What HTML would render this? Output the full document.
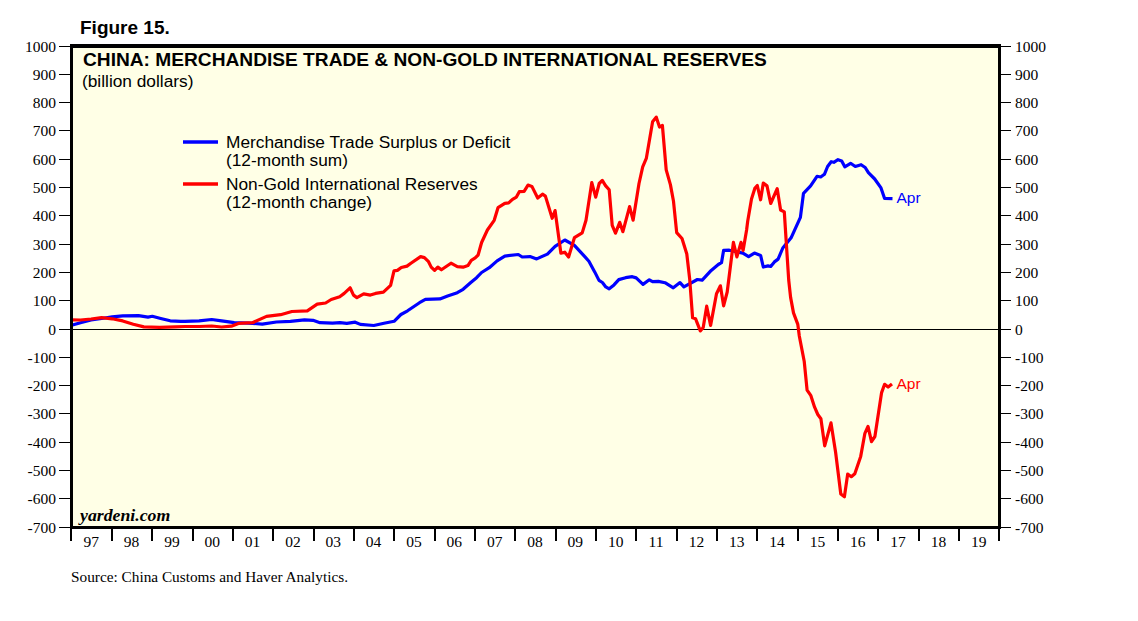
<!DOCTYPE html>
<html><head><meta charset="utf-8"><style>
html,body{margin:0;padding:0;background:#fff;width:1138px;height:621px;overflow:hidden;position:relative}
.ax{font-family:"Liberation Serif",serif;font-size:15.5px;fill:#000}
.t{position:absolute;white-space:nowrap;font-family:"Liberation Sans",sans-serif;line-height:1}
</style></head><body>
<svg width="1138" height="621" viewBox="0 0 1138 621" style="position:absolute;left:0;top:0">
<rect x="72" y="46" width="927" height="481" fill="#FFFFE6"/>
<rect x="73" y="329" width="925" height="1" fill="#000"/>
<rect x="59" y="527" width="11" height="1" fill="#000"/>
<rect x="1001" y="527" width="10" height="1" fill="#000"/>
<text x="56" y="532.5" text-anchor="end" class="ax">-700</text>
<text x="1015" y="532.5" class="ax">-700</text>
<rect x="59" y="498" width="11" height="1" fill="#000"/>
<rect x="1001" y="498" width="10" height="1" fill="#000"/>
<text x="56" y="503.5" text-anchor="end" class="ax">-600</text>
<text x="1015" y="503.5" class="ax">-600</text>
<rect x="59" y="470" width="11" height="1" fill="#000"/>
<rect x="1001" y="470" width="10" height="1" fill="#000"/>
<text x="56" y="475.5" text-anchor="end" class="ax">-500</text>
<text x="1015" y="475.5" class="ax">-500</text>
<rect x="59" y="442" width="11" height="1" fill="#000"/>
<rect x="1001" y="442" width="10" height="1" fill="#000"/>
<text x="56" y="447.5" text-anchor="end" class="ax">-400</text>
<text x="1015" y="447.5" class="ax">-400</text>
<rect x="59" y="413" width="11" height="1" fill="#000"/>
<rect x="1001" y="413" width="10" height="1" fill="#000"/>
<text x="56" y="418.5" text-anchor="end" class="ax">-300</text>
<text x="1015" y="418.5" class="ax">-300</text>
<rect x="59" y="385" width="11" height="1" fill="#000"/>
<rect x="1001" y="385" width="10" height="1" fill="#000"/>
<text x="56" y="390.5" text-anchor="end" class="ax">-200</text>
<text x="1015" y="390.5" class="ax">-200</text>
<rect x="59" y="357" width="11" height="1" fill="#000"/>
<rect x="1001" y="357" width="10" height="1" fill="#000"/>
<text x="56" y="362.5" text-anchor="end" class="ax">-100</text>
<text x="1015" y="362.5" class="ax">-100</text>
<rect x="59" y="329" width="11" height="1" fill="#000"/>
<rect x="1001" y="329" width="10" height="1" fill="#000"/>
<text x="56" y="334.5" text-anchor="end" class="ax">0</text>
<text x="1015" y="334.5" class="ax">0</text>
<rect x="59" y="300" width="11" height="1" fill="#000"/>
<rect x="1001" y="300" width="10" height="1" fill="#000"/>
<text x="56" y="305.5" text-anchor="end" class="ax">100</text>
<text x="1015" y="305.5" class="ax">100</text>
<rect x="59" y="272" width="11" height="1" fill="#000"/>
<rect x="1001" y="272" width="10" height="1" fill="#000"/>
<text x="56" y="277.5" text-anchor="end" class="ax">200</text>
<text x="1015" y="277.5" class="ax">200</text>
<rect x="59" y="244" width="11" height="1" fill="#000"/>
<rect x="1001" y="244" width="10" height="1" fill="#000"/>
<text x="56" y="249.5" text-anchor="end" class="ax">300</text>
<text x="1015" y="249.5" class="ax">300</text>
<rect x="59" y="215" width="11" height="1" fill="#000"/>
<rect x="1001" y="215" width="10" height="1" fill="#000"/>
<text x="56" y="220.5" text-anchor="end" class="ax">400</text>
<text x="1015" y="220.5" class="ax">400</text>
<rect x="59" y="187" width="11" height="1" fill="#000"/>
<rect x="1001" y="187" width="10" height="1" fill="#000"/>
<text x="56" y="192.5" text-anchor="end" class="ax">500</text>
<text x="1015" y="192.5" class="ax">500</text>
<rect x="59" y="159" width="11" height="1" fill="#000"/>
<rect x="1001" y="159" width="10" height="1" fill="#000"/>
<text x="56" y="164.5" text-anchor="end" class="ax">600</text>
<text x="1015" y="164.5" class="ax">600</text>
<rect x="59" y="130" width="11" height="1" fill="#000"/>
<rect x="1001" y="130" width="10" height="1" fill="#000"/>
<text x="56" y="135.5" text-anchor="end" class="ax">700</text>
<text x="1015" y="135.5" class="ax">700</text>
<rect x="59" y="102" width="11" height="1" fill="#000"/>
<rect x="1001" y="102" width="10" height="1" fill="#000"/>
<text x="56" y="107.5" text-anchor="end" class="ax">800</text>
<text x="1015" y="107.5" class="ax">800</text>
<rect x="59" y="74" width="11" height="1" fill="#000"/>
<rect x="1001" y="74" width="10" height="1" fill="#000"/>
<text x="56" y="79.5" text-anchor="end" class="ax">900</text>
<text x="1015" y="79.5" class="ax">900</text>
<rect x="59" y="46" width="11" height="1" fill="#000"/>
<rect x="1001" y="46" width="10" height="1" fill="#000"/>
<text x="56" y="51.5" text-anchor="end" class="ax">1000</text>
<text x="1015" y="51.5" class="ax">1000</text>
<rect x="70" y="529" width="2" height="12" fill="#000"/>
<rect x="111" y="529" width="2" height="12" fill="#000"/>
<rect x="151" y="529" width="2" height="12" fill="#000"/>
<rect x="192" y="529" width="2" height="12" fill="#000"/>
<rect x="232" y="529" width="2" height="12" fill="#000"/>
<rect x="272" y="529" width="2" height="12" fill="#000"/>
<rect x="313" y="529" width="2" height="12" fill="#000"/>
<rect x="353" y="529" width="2" height="12" fill="#000"/>
<rect x="393" y="529" width="2" height="12" fill="#000"/>
<rect x="434" y="529" width="2" height="12" fill="#000"/>
<rect x="474" y="529" width="2" height="12" fill="#000"/>
<rect x="514" y="529" width="2" height="12" fill="#000"/>
<rect x="555" y="529" width="2" height="12" fill="#000"/>
<rect x="595" y="529" width="2" height="12" fill="#000"/>
<rect x="635" y="529" width="2" height="12" fill="#000"/>
<rect x="676" y="529" width="2" height="12" fill="#000"/>
<rect x="716" y="529" width="2" height="12" fill="#000"/>
<rect x="756" y="529" width="2" height="12" fill="#000"/>
<rect x="797" y="529" width="2" height="12" fill="#000"/>
<rect x="837" y="529" width="2" height="12" fill="#000"/>
<rect x="877" y="529" width="2" height="12" fill="#000"/>
<rect x="918" y="529" width="2" height="12" fill="#000"/>
<rect x="958" y="529" width="2" height="12" fill="#000"/>
<rect x="998" y="529" width="2" height="12" fill="#000"/>
<text x="91.2" y="547" text-anchor="middle" class="ax">97</text>
<text x="131.5" y="547" text-anchor="middle" class="ax">98</text>
<text x="171.9" y="547" text-anchor="middle" class="ax">99</text>
<text x="212.2" y="547" text-anchor="middle" class="ax">00</text>
<text x="252.6" y="547" text-anchor="middle" class="ax">01</text>
<text x="292.9" y="547" text-anchor="middle" class="ax">02</text>
<text x="333.3" y="547" text-anchor="middle" class="ax">03</text>
<text x="373.6" y="547" text-anchor="middle" class="ax">04</text>
<text x="414.0" y="547" text-anchor="middle" class="ax">05</text>
<text x="454.3" y="547" text-anchor="middle" class="ax">06</text>
<text x="494.7" y="547" text-anchor="middle" class="ax">07</text>
<text x="535.0" y="547" text-anchor="middle" class="ax">08</text>
<text x="575.3" y="547" text-anchor="middle" class="ax">09</text>
<text x="615.7" y="547" text-anchor="middle" class="ax">10</text>
<text x="656.0" y="547" text-anchor="middle" class="ax">11</text>
<text x="696.4" y="547" text-anchor="middle" class="ax">12</text>
<text x="736.7" y="547" text-anchor="middle" class="ax">13</text>
<text x="777.1" y="547" text-anchor="middle" class="ax">14</text>
<text x="817.4" y="547" text-anchor="middle" class="ax">15</text>
<text x="857.8" y="547" text-anchor="middle" class="ax">16</text>
<text x="898.1" y="547" text-anchor="middle" class="ax">17</text>
<text x="938.5" y="547" text-anchor="middle" class="ax">18</text>
<text x="978.8" y="547" text-anchor="middle" class="ax">19</text>
<polyline fill="none" stroke="#0000FF" stroke-width="3.2" stroke-linejoin="round" stroke-linecap="butt" points="71.6,325.3 80.5,322.7 91.1,320.0 101.6,318.5 112.2,316.9 122.7,315.8 138.5,315.6 148.0,317.1 152.3,316.3 160.7,318.5 170.2,320.8 180.7,321.4 185.0,321.3 199.1,320.9 211.7,319.5 221.6,320.9 234.2,322.7 248.3,323.1 262.3,324.1 276.4,322.0 290.4,321.3 304.5,319.9 313.0,320.3 320.0,322.7 332.6,323.1 340.0,322.7 346.8,323.3 355.2,322.2 360.3,324.4 373.8,325.5 384.0,323.3 394.1,321.3 400.9,314.5 407.6,310.8 419.5,302.7 425.4,299.4 439.9,298.9 447.6,296.0 457.3,292.7 463.1,289.3 470.8,282.5 476.6,277.7 481.6,272.5 489.3,267.7 497.1,260.9 504.8,256.1 518.3,254.5 522.2,257.0 530.0,256.6 536.7,258.9 547.4,254.1 555.1,246.4 564.8,240.0 574.4,245.4 585.0,256.9 588.9,261.3 594.7,271.9 599.0,280.4 602.4,282.5 605.8,286.9 609.2,288.8 614.0,284.9 618.8,279.6 625.6,277.7 632.3,276.7 636.2,277.9 643.0,284.4 649.3,279.8 652.6,281.7 658.4,281.4 665.0,282.7 673.3,287.8 680.0,282.6 683.9,286.8 697.4,279.5 702.2,280.1 711.2,270.4 718.3,264.5 721.5,262.7 723.6,250.4 729.3,250.2 742.9,253.1 748.6,256.6 754.4,253.1 760.6,255.4 763.3,267.0 768.0,265.9 770.7,266.5 774.4,261.9 778.1,259.1 782.8,248.0 791.1,237.8 800.4,217.4 803.5,193.3 810.6,185.9 817.0,176.3 820.7,177.0 824.4,174.3 827.6,166.5 831.2,161.7 833.8,162.3 838.0,159.7 841.7,160.9 844.8,166.8 850.6,163.3 855.3,166.5 861.1,164.7 865.2,167.5 868.4,172.7 874.7,179.0 881.0,187.9 884.6,198.4 892.5,198.6"/>
<polyline fill="none" stroke="#FF0000" stroke-width="3.2" stroke-linejoin="round" stroke-linecap="butt" points="71.6,319.8 80.5,320.0 91.1,319.0 101.6,317.7 112.2,318.8 122.7,320.9 133.3,324.3 143.8,326.9 159.6,327.4 175.5,326.9 185.0,326.5 199.1,326.5 211.7,326.0 221.6,327.0 231.4,326.2 238.4,323.4 252.5,322.7 266.5,316.4 280.6,314.7 291.9,311.5 307.3,310.8 317.2,304.2 325.6,303.0 331.2,299.5 339.7,296.7 344.2,293.4 350.1,287.8 353.5,295.1 356.9,297.6 363.7,293.9 370.4,295.1 375.5,293.4 383.4,292.2 390.6,285.4 394.0,270.9 397.4,270.4 401.3,267.5 407.0,266.1 410.9,263.2 420.6,256.6 424.4,257.6 428.3,261.3 431.2,267.1 434.6,270.4 437.8,267.1 441.4,269.8 451.0,263.2 457.3,266.6 463.1,267.2 467.9,265.6 471.3,260.3 475.2,257.9 478.1,255.0 481.6,242.5 487.4,230.0 494.2,220.3 498.0,207.7 504.8,203.3 508.7,202.9 512.5,199.4 516.4,197.1 519.3,191.7 524.1,191.3 528.0,185.1 531.9,186.4 537.7,198.0 542.5,194.2 545.4,196.1 552.2,218.3 555.1,210.6 560.9,253.2 564.8,252.2 568.6,257.0 574.4,237.7 582.2,232.9 586.0,220.3 591.8,182.6 595.7,197.1 599.2,183.5 602.3,180.4 605.5,185.6 609.2,189.8 612.2,225.4 615.5,233.2 619.7,222.3 622.9,231.7 629.6,206.6 633.1,220.2 639.0,183.5 642.7,166.8 646.3,158.4 652.6,121.8 656.2,117.1 659.5,127.0 662.4,125.5 666.2,169.9 670.4,184.6 673.5,201.3 676.7,232.7 682.0,238.5 686.8,254.0 689.7,279.1 692.6,317.8 695.5,318.7 700.3,330.9 703.2,327.4 706.7,306.2 710.6,325.5 716.5,293.7 720.4,285.8 723.6,305.8 727.2,292.0 733.4,242.4 736.9,256.9 741.0,242.4 743.1,250.4 746.6,230.0 747.7,221.2 751.5,199.0 754.8,188.4 757.3,185.5 760.6,199.8 763.3,183.1 767.0,185.9 770.7,203.5 777.2,188.7 780.6,210.0 784.3,211.9 788.7,280.0 790.6,297.4 793.5,312.9 797.8,324.4 799.3,336.0 804.2,361.2 807.1,390.1 810.9,395.7 814.6,407.2 817.8,414.5 820.9,418.7 824.7,445.9 831.0,422.9 835.6,452.2 840.8,494.0 844.4,496.7 847.7,474.1 851.3,476.7 854.8,473.7 860.7,456.4 864.9,433.3 868.0,426.4 871.5,441.7 874.9,436.5 881.6,392.6 884.6,384.3 888.1,387.1 892.0,383.9"/>
<line x1="183" x2="218" y1="142" y2="142" stroke="#0000FF" stroke-width="3.6"/>
<line x1="183" x2="218" y1="184" y2="184" stroke="#FF0000" stroke-width="3.6"/>
<rect x="70" y="44" width="931" height="4" fill="#000"/><rect x="70" y="526" width="931" height="3" fill="#000"/><rect x="70" y="44" width="3" height="485" fill="#000"/><rect x="998" y="44" width="3" height="485" fill="#000"/>
</svg>
<div class="t" style="left:80px;top:17.5px;font-size:19px;font-weight:bold">Figure 15.</div>
<div class="t" style="left:83px;top:50px;font-size:19.15px;font-weight:bold">CHINA: MERCHANDISE TRADE &amp; NON-GOLD INTERNATIONAL RESERVES</div>
<div class="t" style="left:82px;top:73px;font-size:17.3px">(billion dollars)</div>
<div class="t" style="left:226px;top:133.5px;font-size:17.3px">Merchandise Trade Surplus or Deficit</div>
<div class="t" style="left:226px;top:152px;font-size:17.3px">(12-month sum)</div>
<div class="t" style="left:226px;top:175.5px;font-size:17.3px">Non-Gold International Reserves</div>
<div class="t" style="left:226px;top:194px;font-size:17.3px">(12-month change)</div>
<div class="t" style="left:896.5px;top:190px;font-size:15.5px;color:#0000FF">Apr</div>
<div class="t" style="left:896.5px;top:376px;font-size:15.5px;color:#FF0000">Apr</div>
<div class="t" style="left:80px;top:507.5px;font-size:16px;transform:scaleX(1.11);transform-origin:0 0;font-family:'Liberation Serif',serif;font-weight:bold;font-style:italic">yardeni.com</div>
<div class="t" style="left:71px;top:568.5px;font-size:15.3px;font-family:'Liberation Serif',serif">Source: China Customs and Haver Analytics.</div>
</body></html>
